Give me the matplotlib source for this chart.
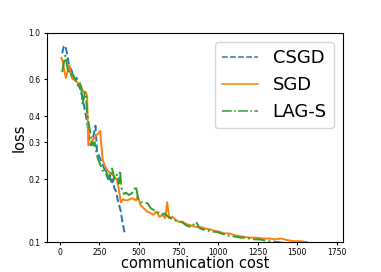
import matplotlib
matplotlib.use("Agg")
import matplotlib.pyplot as plt
from matplotlib.ticker import FixedLocator, FormatStrFormatter, NullLocator

csgd_x = [15, 25, 35, 45, 55, 65, 75, 85, 95, 105, 115, 125, 135, 145, 155, 165, 175, 185, 195, 205,
          215, 225, 235, 245, 255, 265, 275, 285, 295, 305, 315, 325, 335, 345, 355, 365, 375, 385, 395, 410]
csgd_y = [0.80, 0.86, 0.87, 0.80, 0.72, 0.68, 0.66, 0.62, 0.60, 0.61, 0.57, 0.55, 0.52, 0.48, 0.44, 0.40,
          0.36, 0.31, 0.29, 0.30, 0.33, 0.36, 0.27, 0.26, 0.25, 0.24, 0.23, 0.22, 0.21, 0.20, 0.21, 0.19,
          0.20, 0.18, 0.175, 0.16, 0.15, 0.14, 0.125, 0.11]

sgd_x = [10, 20, 30, 38, 50, 60, 70, 80, 95, 110, 125, 135, 145, 155, 165, 172, 180, 195, 210, 225,
         240, 255, 262, 270, 285, 300, 315, 330, 345, 360, 372, 385, 400, 420, 440, 460, 480, 492, 510,
         530, 550, 570, 590, 610, 630, 650, 665, 678, 690, 710, 730, 750, 775, 800, 830, 860, 890, 920,
         950, 980, 1010, 1040, 1070, 1100, 1130, 1160, 1200, 1240, 1280, 1320, 1360, 1400, 1440, 1480,
         1520, 1560]
sgd_y = [0.76, 0.72, 0.65, 0.61, 0.66, 0.70, 0.64, 0.60, 0.60, 0.58, 0.57, 0.55, 0.53, 0.52, 0.52, 0.50,
         0.29, 0.30, 0.31, 0.32, 0.33, 0.34, 0.29, 0.25, 0.23, 0.22, 0.215, 0.21, 0.205, 0.20, 0.18, 0.155,
         0.16, 0.158, 0.16, 0.162, 0.158, 0.166, 0.15, 0.145, 0.14, 0.138, 0.135, 0.14, 0.132, 0.135, 0.13,
         0.155, 0.13, 0.132, 0.128, 0.125, 0.125, 0.122, 0.12, 0.118, 0.118, 0.116, 0.115, 0.113, 0.112,
         0.11, 0.11, 0.108, 0.107, 0.106, 0.105, 0.105, 0.104, 0.104, 0.103, 0.104, 0.102, 0.101, 0.101, 0.10]

lag_x = [15, 25, 35, 45, 55, 65, 75, 85, 95, 105, 115, 125, 135, 143, 150, 158, 165, 172, 180, 190,
         200, 210, 220, 230, 240, 250, 260, 270, 280, 290, 300, 315, 330, 345, 360, 372, 380, 390, 405,
         420, 435, 450, 465, 481, 495, 512, 530, 555, 575, 595, 610, 625, 640, 660, 680, 700, 725, 750,
         775, 800, 830, 861, 880, 900, 930, 960, 990, 1020, 1050, 1080, 1110, 1140, 1170, 1200, 1230,
         1260, 1290, 1320, 1350, 1380, 1410, 1440]
lag_y = [0.65, 0.72, 0.78, 0.70, 0.64, 0.66, 0.62, 0.63, 0.60, 0.58, 0.56, 0.58, 0.55, 0.46, 0.48, 0.52,
         0.50, 0.42, 0.38, 0.34, 0.31, 0.29, 0.30, 0.27, 0.25, 0.24, 0.23, 0.22, 0.215, 0.22, 0.21, 0.20,
         0.225, 0.20, 0.21, 0.19, 0.22, 0.18, 0.17, 0.172, 0.168, 0.17, 0.175, 0.185, 0.16, 0.155, 0.155,
         0.153, 0.145, 0.142, 0.14, 0.138, 0.135, 0.137, 0.133, 0.13, 0.127, 0.126, 0.124, 0.12, 0.118,
         0.125, 0.117, 0.115, 0.114, 0.112, 0.112, 0.11, 0.108, 0.107, 0.106, 0.105, 0.105, 0.104, 0.103,
         0.103, 0.102, 0.101, 0.1005, 0.1, 0.099, 0.099]

y_ticks = [0.1, 0.2, 0.3, 0.4, 0.6, 1.0]
x_ticks = [0, 250, 500, 750, 1000, 1250, 1500, 1750]

fig = plt.figure(figsize=(3.81, 2.72), dpi=100)
ax = fig.add_axes([0.123, 0.110, 0.777, 0.769])
ax.plot(csgd_x, csgd_y, '--', color='tab:blue', lw=1.4, label='CSGD')
ax.plot(sgd_x, sgd_y, '-', color='tab:orange', lw=1.4, label='SGD')
ax.plot(lag_x, lag_y, '-.', color='tab:green', lw=1.4, label='LAG-S')
ax.set_yscale('log')
ax.set_ylim(0.1, 1.0)
ax.set_xlim(-82, 1788)
ax.yaxis.set_major_locator(FixedLocator(y_ticks))
ax.yaxis.set_minor_locator(NullLocator())
ax.yaxis.set_major_formatter(FormatStrFormatter('%.1f'))
ax.set_xticks(x_ticks)
ax.tick_params(labelsize=5.5, length=2.5, pad=2)
ax.set_xlabel('communication cost', fontsize=10.5, labelpad=-1)
ax.set_ylabel('loss', fontsize=10.5, labelpad=1)
leg = ax.legend(loc='upper right', fontsize=13)
for h in leg.get_lines():
    h.set_linewidth(1.1)
fig.savefig('out.png', dpi=100)
